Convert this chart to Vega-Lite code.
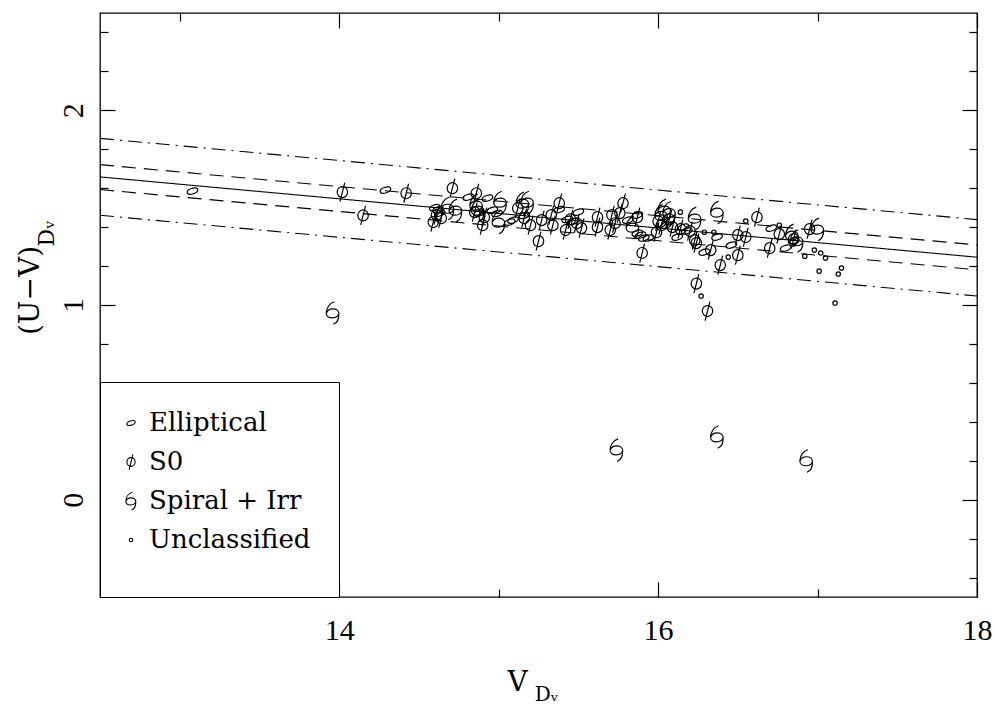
{
  "$schema": "https://vega.github.io/schema/vega-lite/v6.json",
  "width": 877,
  "height": 584,
  "autosize": {"type": "none"},
  "padding": {"left": 100, "top": 13, "right": 18, "bottom": 108},
  "background": "white",
  "config": {
    "font": "DejaVu Serif",
    "view": {"stroke": "black", "strokeWidth": 1.3},
    "axis": {"domain": false, "grid": false, "tickColor": "black", "tickWidth": 1.2, "labelColor": "black", "titleColor": "black", "titleFont": "DejaVu Serif", "titleFontWeight": "normal"}
  },
  "datasets": {
    "lines": [
      {"line": "fit", "style": "solid", "x": 12.5, "y": 1.658},
      {"line": "fit", "style": "solid", "x": 18, "y": 1.2455},
      {"line": "du", "style": "dash", "x": 12.5, "y": 1.721},
      {"line": "du", "style": "dash", "x": 18, "y": 1.3085},
      {"line": "dl", "style": "dash", "x": 12.5, "y": 1.593},
      {"line": "dl", "style": "dash", "x": 18, "y": 1.1805},
      {"line": "ddu", "style": "dashdot", "x": 12.5, "y": 1.856},
      {"line": "ddu", "style": "dashdot", "x": 18, "y": 1.4385},
      {"line": "ddl", "style": "dashdot", "x": 12.5, "y": 1.461},
      {"line": "ddl", "style": "dashdot", "x": 18, "y": 1.046}
    ],
    "pts": [
      {"type": "Elliptical", "x": 13.08, "y": 1.585},
      {"type": "Elliptical", "x": 14.29, "y": 1.59},
      {"type": "Elliptical", "x": 14.81, "y": 1.554},
      {"type": "Elliptical", "x": 14.93, "y": 1.549},
      {"type": "Elliptical", "x": 14.60, "y": 1.500},
      {"type": "Elliptical", "x": 14.63, "y": 1.472},
      {"type": "Elliptical", "x": 14.62, "y": 1.490},
      {"type": "Elliptical", "x": 14.88, "y": 1.472},
      {"type": "Elliptical", "x": 14.96, "y": 1.487},
      {"type": "Elliptical", "x": 14.99, "y": 1.470},
      {"type": "Elliptical", "x": 15.07, "y": 1.426},
      {"type": "Elliptical", "x": 15.09, "y": 1.436},
      {"type": "Elliptical", "x": 15.16, "y": 1.460},
      {"type": "Elliptical", "x": 15.38, "y": 1.490},
      {"type": "Elliptical", "x": 15.43, "y": 1.440},
      {"type": "Elliptical", "x": 15.47, "y": 1.430},
      {"type": "Elliptical", "x": 15.50, "y": 1.477},
      {"type": "Elliptical", "x": 15.81, "y": 1.436},
      {"type": "Elliptical", "x": 15.87, "y": 1.462},
      {"type": "Elliptical", "x": 15.87, "y": 1.369},
      {"type": "Elliptical", "x": 15.91, "y": 1.344},
      {"type": "Elliptical", "x": 15.94, "y": 1.344},
      {"type": "Elliptical", "x": 15.89, "y": 1.359},
      {"type": "Elliptical", "x": 16.05, "y": 1.410},
      {"type": "Elliptical", "x": 16.12, "y": 1.349},
      {"type": "Elliptical", "x": 16.16, "y": 1.400},
      {"type": "Elliptical", "x": 16.18, "y": 1.380},
      {"type": "Elliptical", "x": 16.29, "y": 1.272},
      {"type": "Elliptical", "x": 16.37, "y": 1.349},
      {"type": "Elliptical", "x": 16.46, "y": 1.308},
      {"type": "Elliptical", "x": 16.71, "y": 1.395},
      {"type": "Elliptical", "x": 16.80, "y": 1.292},
      {"type": "Elliptical", "x": 16.85, "y": 1.330},
      {"type": "S0", "x": 14.02, "y": 1.580},
      {"type": "S0", "x": 14.15, "y": 1.460},
      {"type": "S0", "x": 14.42, "y": 1.574},
      {"type": "S0", "x": 14.71, "y": 1.600},
      {"type": "S0", "x": 14.86, "y": 1.574},
      {"type": "S0", "x": 14.59, "y": 1.426},
      {"type": "S0", "x": 14.64, "y": 1.446},
      {"type": "S0", "x": 14.61, "y": 1.462},
      {"type": "S0", "x": 14.90, "y": 1.410},
      {"type": "S0", "x": 14.85, "y": 1.477},
      {"type": "S0", "x": 14.91, "y": 1.451},
      {"type": "S0", "x": 15.12, "y": 1.497},
      {"type": "S0", "x": 15.16, "y": 1.446},
      {"type": "S0", "x": 15.20, "y": 1.410},
      {"type": "S0", "x": 15.25, "y": 1.328},
      {"type": "S0", "x": 15.27, "y": 1.436},
      {"type": "S0", "x": 15.38, "y": 1.523},
      {"type": "S0", "x": 15.33, "y": 1.462},
      {"type": "S0", "x": 15.34, "y": 1.410},
      {"type": "S0", "x": 15.42, "y": 1.385},
      {"type": "S0", "x": 15.45, "y": 1.440},
      {"type": "S0", "x": 15.49, "y": 1.420},
      {"type": "S0", "x": 15.52, "y": 1.395},
      {"type": "S0", "x": 15.62, "y": 1.451},
      {"type": "S0", "x": 15.62, "y": 1.400},
      {"type": "S0", "x": 15.71, "y": 1.462},
      {"type": "S0", "x": 15.70, "y": 1.385},
      {"type": "S0", "x": 15.73, "y": 1.420},
      {"type": "S0", "x": 15.76, "y": 1.472},
      {"type": "S0", "x": 15.78, "y": 1.523},
      {"type": "S0", "x": 15.87, "y": 1.451},
      {"type": "S0", "x": 15.90, "y": 1.267},
      {"type": "S0", "x": 15.99, "y": 1.374},
      {"type": "S0", "x": 16.00, "y": 1.430},
      {"type": "S0", "x": 16.02, "y": 1.410},
      {"type": "S0", "x": 16.07, "y": 1.440},
      {"type": "S0", "x": 16.09, "y": 1.400},
      {"type": "S0", "x": 16.14, "y": 1.390},
      {"type": "S0", "x": 16.20, "y": 1.380},
      {"type": "S0", "x": 16.23, "y": 1.333},
      {"type": "S0", "x": 16.24, "y": 1.318},
      {"type": "S0", "x": 16.24, "y": 1.110},
      {"type": "S0", "x": 16.31, "y": 0.969},
      {"type": "S0", "x": 16.33, "y": 1.282},
      {"type": "S0", "x": 16.39, "y": 1.205},
      {"type": "S0", "x": 16.50, "y": 1.256},
      {"type": "S0", "x": 16.50, "y": 1.359},
      {"type": "S0", "x": 16.55, "y": 1.349},
      {"type": "S0", "x": 16.62, "y": 1.451},
      {"type": "S0", "x": 16.70, "y": 1.292},
      {"type": "S0", "x": 16.76, "y": 1.364},
      {"type": "S0", "x": 16.85, "y": 1.338},
      {"type": "S0", "x": 16.95, "y": 1.390},
      {"type": "Spiral + Irr", "x": 13.96, "y": 0.960},
      {"type": "Spiral + Irr", "x": 15.74, "y": 0.256},
      {"type": "Spiral + Irr", "x": 16.37, "y": 0.323},
      {"type": "Spiral + Irr", "x": 16.93, "y": 0.200},
      {"type": "Spiral + Irr", "x": 14.73, "y": 1.487},
      {"type": "Spiral + Irr", "x": 14.68, "y": 1.497},
      {"type": "Spiral + Irr", "x": 14.86, "y": 1.513},
      {"type": "Spiral + Irr", "x": 14.87, "y": 1.487},
      {"type": "Spiral + Irr", "x": 15.00, "y": 1.426},
      {"type": "Spiral + Irr", "x": 15.01, "y": 1.528},
      {"type": "Spiral + Irr", "x": 15.15, "y": 1.523},
      {"type": "Spiral + Irr", "x": 15.18, "y": 1.528},
      {"type": "Spiral + Irr", "x": 15.84, "y": 1.400},
      {"type": "Spiral + Irr", "x": 16.02, "y": 1.460},
      {"type": "Spiral + Irr", "x": 16.07, "y": 1.475},
      {"type": "Spiral + Irr", "x": 16.04, "y": 1.487},
      {"type": "Spiral + Irr", "x": 16.23, "y": 1.446},
      {"type": "Spiral + Irr", "x": 16.37, "y": 1.477},
      {"type": "Spiral + Irr", "x": 16.84, "y": 1.359},
      {"type": "Spiral + Irr", "x": 16.87, "y": 1.330},
      {"type": "Spiral + Irr", "x": 17.00, "y": 1.390},
      {"type": "Unclassified", "x": 16.14, "y": 1.477},
      {"type": "Unclassified", "x": 16.29, "y": 1.374},
      {"type": "Unclassified", "x": 16.35, "y": 1.374},
      {"type": "Unclassified", "x": 16.44, "y": 1.246},
      {"type": "Unclassified", "x": 16.55, "y": 1.431},
      {"type": "Unclassified", "x": 16.76, "y": 1.410},
      {"type": "Unclassified", "x": 16.27, "y": 1.046},
      {"type": "Unclassified", "x": 16.92, "y": 1.251},
      {"type": "Unclassified", "x": 16.98, "y": 1.282},
      {"type": "Unclassified", "x": 17.02, "y": 1.267},
      {"type": "Unclassified", "x": 17.05, "y": 1.241},
      {"type": "Unclassified", "x": 17.01, "y": 1.174},
      {"type": "Unclassified", "x": 17.15, "y": 1.190},
      {"type": "Unclassified", "x": 17.13, "y": 1.159},
      {"type": "Unclassified", "x": 17.11, "y": 1.010}
    ]
  },
  "layer": [
    {
      "data": {"name": "lines"},
      "mark": {"type": "line", "stroke": "black", "strokeWidth": 1.1},
      "encoding": {
        "x": {
          "field": "x", "type": "quantitative",
          "scale": {"domain": [12.5, 18], "nice": false, "zero": false},
          "axis": {
            "orient": "top", "values": [13, 14, 15, 16, 17, 18], "labels": false,
            "tickSize": {"condition": {"test": "datum.value % 2 === 0", "value": -15}, "value": -8},
            "title": "Dᵥ", "titleFontSize": 20, "titleX": 446, "titleY": 681, "titleAngle": 0,
            "titleAlign": "center", "titleBaseline": "middle"
          }
        },
        "y": {
          "field": "y", "type": "quantitative",
          "scale": {"domain": [-0.5, 2.5], "nice": false, "zero": false},
          "axis": {
            "orient": "right", "values": [-0.4, -0.2, 0, 0.2, 0.4, 0.6, 0.8, 1, 1.2, 1.4, 1.6, 1.8, 2, 2.2, 2.4], "labels": false,
            "tickSize": {"condition": {"test": "abs(datum.value - round(datum.value)) < 0.01", "value": -15}, "value": -8},
            "title": "Dᵥ", "titleFontSize": 22, "titleX": -931, "titleY": 220, "titleAngle": -90,
            "titleAlign": "center", "titleBaseline": "middle"
          }
        },
        "detail": {"field": "line"},
        "strokeDash": {
          "field": "style", "type": "nominal",
          "scale": {"domain": ["solid", "dash", "dashdot"], "range": [[1, 0], [14, 8], [14, 6, 2, 6]]},
          "legend": null
        }
      }
    },
    {
      "data": {"name": "pts"},
      "mark": {"type": "point", "filled": false, "stroke": "black", "strokeWidth": 1.2, "size": 400, "opacity": 1},
      "encoding": {
        "x": {
          "field": "x", "type": "quantitative",
          "scale": {"domain": [12.5, 18], "nice": false, "zero": false},
          "axis": {
            "orient": "bottom", "values": [13, 14, 15, 16, 17, 18],
            "tickSize": {"condition": {"test": "datum.value % 2 === 0", "value": -15}, "value": -8},
            "labelExpr": "datum.value % 2 === 0 ? datum.label : ''",
            "labelFlush": false, "labelOverlap": false,
            "labelPadding": 33, "labelFont": "Liberation Serif", "labelFontSize": 30,
            "title": "V", "titleFontSize": 28, "titleX": 417, "titleY": 85,
            "titleAlign": "center", "titleBaseline": "middle"
          }
        },
        "y": {
          "field": "y", "type": "quantitative",
          "scale": {"domain": [-0.5, 2.5], "nice": false, "zero": false},
          "axis": {
            "orient": "left", "values": [-0.4, -0.2, 0, 0.2, 0.4, 0.6, 0.8, 1, 1.2, 1.4, 1.6, 1.8, 2, 2.2, 2.4],
            "tickSize": {"condition": {"test": "abs(datum.value - round(datum.value)) < 0.01", "value": -15}, "value": -8},
            "labelExpr": "abs(datum.value - round(datum.value)) < 0.01 ? format(datum.value, 'd') : ''",
            "labelAngle": -90, "labelAlign": "center", "labelBaseline": "alphabetic",
            "labelFlush": false, "labelOverlap": false,
            "labelPadding": 33, "labelFont": "Liberation Serif", "labelFontSize": 30,
            "title": "(U−V)", "titleFontSize": 28, "titleX": -70, "titleY": 277, "titleAngle": -90,
            "titleAlign": "center", "titleBaseline": "middle"
          }
        },
        "shape": {
          "field": "type", "type": "nominal",
          "scale": {
            "domain": ["Elliptical", "S0", "Spiral + Irr", "Unclassified"],
            "range": [
              "M-0.517,0.188 A0.55,0.28,-20,0,1,0.517,-0.188 A0.55,0.28,-20,0,1,-0.517,0.188 Z",
              "M0,-0.55 A0.52,0.55,0,0,1,0,0.55 A0.52,0.55,0,0,1,0,-0.55 Z M-0.24,0.95 L0.24,-0.95",
              "M0.15,-1.1 C-0.35,-0.95 -0.65,-0.45 -0.65,0.05 C-0.65,0.35 -0.4,0.5 -0.05,0.5 C0.35,0.5 0.6,0.3 0.6,0.05 C0.6,-0.25 0.3,-0.4 0,-0.4 C-0.3,-0.4 -0.55,-0.2 -0.62,0 M0.6,0.05 C0.62,0.5 0.55,1.0 0.05,1.15",
              "M0.22,0 A0.22,0.22,0,0,1,-0.22,0 A0.22,0.22,0,0,1,0.22,0 Z"
            ]
          },
          "legend": {
            "orient": "bottom-left", "offset": 0, "padding": 28,
            "title": " ", "titleOrient": "bottom", "titleFontSize": 10, "titlePadding": 6,
            "strokeColor": "black", "fillColor": "white",
            "labelFont": "DejaVu Serif", "labelFontSize": 26, "labelColor": "black", "labelLimit": 400,
            "symbolSize": 250, "symbolStrokeWidth": 1.1, "symbolStrokeColor": "black", "symbolFillColor": "transparent",
            "rowPadding": 13, "labelOffset": 5, "symbolOffset": -10
          }
        }
      }
    }
  ],
  "resolve": {"axis": {"x": "independent", "y": "independent"}}
}
